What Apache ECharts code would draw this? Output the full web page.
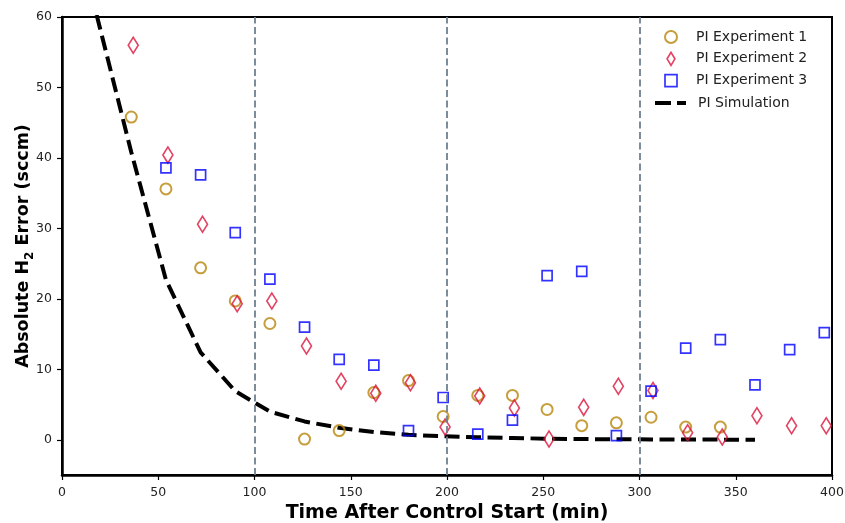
<!DOCTYPE html>
<html>
<head>
<meta charset="utf-8">
<script src="https://cdn.jsdelivr.net/npm/echarts@6/dist/echarts.min.js"></script>
<style>html,body{margin:0;padding:0;background:#fff}#c{width:845px;height:523px}</style>
</head>
<body>
<div id="c"></div>
<script>
var time1 = [36, 54, 72, 90, 108, 126, 144, 162, 180, 198, 216, 234, 252, 270, 288, 306, 324, 342];
var exp1  = [45.8, 35.6, 24.4, 19.7, 16.5, 0.1, 1.3, 6.7, 8.4, 3.3, 6.3, 6.3, 4.3, 2.0, 2.4, 3.2, 1.8, 1.8];
var time2 = [37, 55, 73, 91, 109, 127, 145, 163, 181, 199, 217, 235, 253, 271, 289, 307, 325, 343, 361, 379, 397];
var exp2  = [56.0, 40.4, 30.6, 19.3, 19.7, 13.3, 8.3, 6.6, 8.1, 1.8, 6.2, 4.5, 0.1, 4.6, 7.6, 7.0, 1.0, 0.4, 3.4, 2.0, 2.0];
var time3 = [54, 72, 90, 108, 126, 144, 162, 180, 198, 216, 234, 252, 270, 288, 306, 324, 342, 360, 378, 396];
var exp3  = [38.6, 37.6, 29.4, 22.8, 16.0, 11.4, 10.6, 1.3, 6.0, 0.8, 2.8, 23.3, 23.9, 0.6, 6.9, 13.0, 14.2, 7.8, 12.8, 15.2];
var timeSim = [18, 36, 54, 72, 90, 108, 126, 144, 162, 180, 198, 216, 234, 252, 270, 288, 306, 324, 342, 360];
var sim     = [60.3, 40.8, 22.7, 12.4, 6.9, 4.0, 2.6, 1.7, 1.1, 0.7, 0.5, 0.35, 0.25, 0.15, 0.1, 0.07, 0.05, 0.03, 0.02, 0.01];
var vlines = [100, 200, 300];
var xTicks = [0, 50, 100, 150, 200, 250, 300, 350, 400];
var yTicks = [0, 10, 20, 30, 40, 50, 60];

function pairs(xs, ys) { return xs.map(function (x, i) { return [x, ys[i]]; }); }

var chart = echarts.init(document.getElementById('c'), null, {renderer: 'canvas'});
var font = 'DejaVu Sans';
var legendText = {fontFamily: font, fontSize: 14, color: '#222'};
chart.setOption({
  animation: false,
  textStyle: {fontFamily: font},
  grid: {left: 62, right: 13, top: 17, bottom: 48, containLabel: false, outerBoundsMode: 'none',
         show: true, borderColor: '#000', borderWidth: 2, backgroundColor: 'transparent'},
  legend: [
    {
      orient: 'vertical', left: 659, top: 25, padding: 5, itemWidth: 12, itemHeight: 13, itemGap: 7.5,
      textStyle: Object.assign({padding: [0, 0, 0, 14]}, legendText),
      data: [
        {name: 'PI Experiment 1', icon: 'circle', itemStyle: {color: 'rgba(0,0,0,0)', borderColor: '#B8860B', borderWidth: 2}},
        {name: 'PI Experiment 2', icon: 'path://M0,-10 L6,0 L0,10 L-6,0 Z', itemStyle: {color: 'rgba(0,0,0,0)', borderColor: '#DC143C', borderWidth: 1.7}},
        {name: 'PI Experiment 3', icon: 'path://M0,0 L10,0 L10,10 L0,10 Z', itemStyle: {color: 'rgba(0,0,0,0)', borderColor: '#0000FF', borderWidth: 1.7}}
      ]
    },
    {
      orient: 'vertical', left: 650, top: 91, padding: 5, itemWidth: 31, itemHeight: 4,
      textStyle: Object.assign({padding: [0, 0, 0, 7]}, legendText),
      data: [
        {name: 'PI Simulation', icon: 'path://M0,0 L16,0 L16,4 L0,4 Z M22,0 L31,0 L31,4 L22,4 Z', itemStyle: {color: '#000', borderWidth: 0}}
      ]
    }
  ],
  xAxis: {
    type: 'value', min: 0, max: 400,
    name: 'Time After Control Start (min)', nameLocation: 'middle', nameGap: 29, nameMoveOverlap: false,
    nameTextStyle: {fontFamily: font, fontSize: 19, fontWeight: 'bold', color: '#000'},
    axisLine: {show: true, onZero: false, lineStyle: {color: '#000', width: 2.5}},
    axisTick: {show: true, length: 5, lineStyle: {color: '#000', width: 1.2}, customValues: xTicks},
    axisLabel: {fontFamily: font, fontSize: 12.5, color: '#222', margin: 11, customValues: xTicks},
    splitLine: {show: false}
  },
  yAxis: {
    type: 'value', min: -5, max: 60,
    name: '{b|Absolute H}{s|2}{b| Error (sccm)}', nameLocation: 'middle', nameGap: 30, nameMoveOverlap: false,
    nameTextStyle: {
      rich: {
        b: {fontFamily: font, fontSize: 17.5, fontWeight: 'bold', color: '#000', lineHeight: 22, verticalAlign: 'bottom'},
        s: {fontFamily: font, fontSize: 12, fontWeight: 'bold', color: '#000', lineHeight: 22, verticalAlign: 'bottom', padding: [0, 0, -4, 0]}
      }
    },
    axisLine: {show: true, lineStyle: {color: '#000', width: 2.5}},
    axisTick: {show: true, length: 5, lineStyle: {color: '#000', width: 1.2}, customValues: yTicks},
    axisLabel: {fontFamily: font, fontSize: 12.5, color: '#222', margin: 10, customValues: yTicks},
    splitLine: {show: false}
  },
  series: [
    {
      name: 'vlines', type: 'line', data: [], z: 1, silent: true,
      markLine: {
        silent: true, symbol: 'none', animation: false,
        label: {show: false},
        lineStyle: {color: '#708090', type: [7, 3.5], width: 1.8},
        data: vlines.map(function (v) { return {xAxis: v}; })
      }
    },
    {
      name: 'PI Experiment 1', type: 'scatter', z: 3,
      symbol: 'circle', symbolSize: 11,
      itemStyle: {color: 'rgba(0,0,0,0)', borderColor: '#B8860B', borderWidth: 2},
      data: pairs(time1, exp1)
    },
    {
      name: 'PI Experiment 2', type: 'scatter', z: 3,
      symbol: 'path://M0,-10 L6,0 L0,10 L-6,0 Z', symbolSize: [10, 16],
      itemStyle: {color: 'rgba(0,0,0,0)', borderColor: '#DC143C', borderWidth: 1.7},
      data: pairs(time2, exp2)
    },
    {
      name: 'PI Experiment 3', type: 'scatter', z: 3,
      symbol: 'rect', symbolSize: 10,
      itemStyle: {color: 'rgba(0,0,0,0)', borderColor: '#0000FF', borderWidth: 1.7},
      data: pairs(time3, exp3)
    },
    {
      name: 'PI Simulation', type: 'line', z: 2, symbol: 'none',
      clip: true,
      lineStyle: {color: '#000', width: 4, type: [15, 6.5]},
      itemStyle: {color: '#000'},
      data: pairs(timeSim, sim)
    }
  ]
});
</script>
</body>
</html>
